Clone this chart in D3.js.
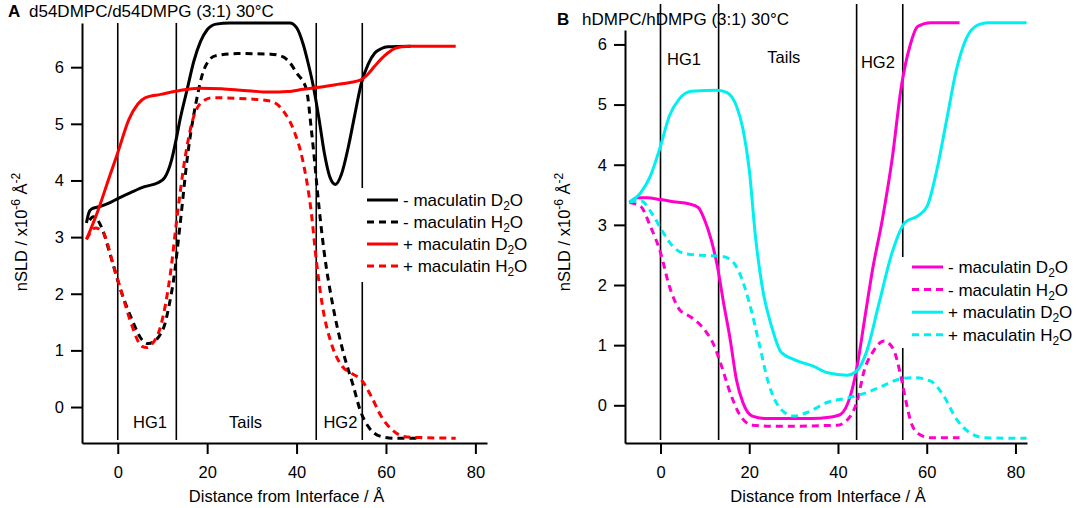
<!DOCTYPE html>
<html>
<head>
<meta charset="utf-8">
<script src="https://cdn.jsdelivr.net/npm/d3@7"></script>
<style>
  body { margin: 0; background: #fff; }
  svg { display: block; font-family: 'Liberation Sans', Arial, sans-serif; }
</style>
</head>
<body>
<div id="chart"></div>
<script>
// nSLD profiles, [distance (Å), nSLD (x10^-6 Å^-2)]
const aMinusD2O = [[-7,3.25],[-6.5,3.42],[-5.8,3.5],[-4,3.54],[-2,3.6],[0,3.68],[3,3.79],[6,3.89],[9,3.96],[10.5,4.05],[12,4.35],[13,4.7],[14,5.1],[15.5,5.6],[17,6.1],[18.5,6.45],[20,6.66],[22,6.76],[25,6.78],[38.5,6.78],[40,6.7],[41.5,6.4],[42.5,6.1],[43.6,5.72],[45,5.1],[46.2,4.49],[47.5,4.05],[48.7,3.93],[50,4.1],[51.6,4.6],[53,5.15],[54.5,5.72],[56,6.05],[57.5,6.25],[59,6.33],[60.4,6.36],[65.5,6.37]];
const aMinusH2O = [[-6.3,3.3],[-5.5,3.36],[-4.5,3.3],[-3.5,3.15],[-1.8,2.72],[0.4,2.13],[3.2,1.54],[5.4,1.19],[6.8,1.12],[8.2,1.16],[9.5,1.28],[10.4,1.43],[11.5,1.8],[12.5,2.25],[13.9,3.19],[15.7,4.49],[17.5,5.37],[19.3,5.96],[21.8,6.2],[26.8,6.24],[34.2,6.23],[37,6.18],[38.5,6.08],[40,5.9],[42.2,5.61],[43.3,4.9],[44,4.37],[44.7,3.78],[46.2,2.72],[48,1.84],[50.5,0.95],[52.7,0.37],[54.2,-0.05],[56,-0.34],[58.9,-0.52],[61.8,-0.55],[68,-0.55]];
const aPlusD2O = [[-7,2.96],[-4.6,3.43],[-1.8,4.08],[0,4.49],[2.5,5.08],[4.5,5.35],[6.1,5.46],[9.6,5.52],[13.9,5.59],[18.2,5.63],[23.2,5.62],[28.2,5.59],[34,5.56],[38,5.57],[41.5,5.61],[44.4,5.64],[48.7,5.69],[52,5.73],[54.5,5.78],[56,5.88],[57.5,6.02],[59,6.15],[60.4,6.25],[62,6.33],[63.5,6.36],[65.5,6.37],[75.6,6.37]];
const aPlusH2O = [[-7,2.96],[-5,3.16],[-3.2,3.07],[-1.1,2.54],[1.1,1.96],[3.2,1.43],[5.4,1.07],[6.5,1.05],[7.5,1.1],[9.6,1.43],[11.8,2.37],[13.2,3.31],[15,4.37],[16.8,5.08],[18.6,5.37],[21.1,5.46],[26.8,5.45],[34.2,5.4],[37.1,5.22],[39.3,4.9],[41.5,4.31],[43.3,3.43],[44.4,2.6],[45.8,1.78],[48,1.07],[50.2,0.72],[52.4,0.59],[54.5,0.48],[56.7,0.19],[58.9,-0.16],[61.8,-0.43],[64.7,-0.53],[75.6,-0.55]];

const bMinusD2O = [[-7,3.37],[-5.2,3.45],[-3,3.45],[0,3.42],[3.5,3.38],[6.3,3.35],[8.5,3.29],[9.9,3.09],[11.4,2.76],[12.8,2.32],[14.2,1.71],[15.7,1.1],[17.1,0.43],[18.6,0.04],[20.7,-0.18],[23.6,-0.22],[34,-0.22],[38,-0.2],[40.6,-0.15],[42.8,0.16],[44.2,0.6],[46,1.43],[47.8,2.26],[50,3.09],[52.2,4.09],[54.3,5.31],[56.2,5.97],[58,6.3],[60.9,6.36],[67.4,6.36]];
const bMinusH2O = [[-7,3.37],[-4.5,3.31],[-2.3,2.98],[0,2.54],[2,1.98],[4.2,1.6],[7,1.46],[9.9,1.26],[12.1,0.99],[13.5,0.71],[15.7,0.21],[17.8,-0.15],[20.7,-0.33],[25.8,-0.35],[39.9,-0.33],[42.8,-0.18],[44.2,0.04],[46,0.6],[47.8,0.88],[50.4,1.07],[52.5,0.93],[54,0.54],[55.4,0.04],[56.5,-0.29],[58.3,-0.48],[60.9,-0.54],[67.4,-0.54]];
const bPlusD2O = [[-7,3.38],[-4.5,3.53],[-2.3,3.81],[0,4.31],[2,4.81],[4.2,5.09],[7,5.22],[12.8,5.24],[15,5.2],[17.1,4.98],[18.6,4.59],[20,3.92],[21.4,2.81],[22.9,1.98],[25,1.32],[27.2,0.88],[30.1,0.76],[34.4,0.65],[37.7,0.54],[42,0.5],[44.2,0.57],[46.4,0.88],[49.3,1.71],[52.2,2.54],[55.1,3.04],[58,3.15],[60.1,3.31],[62.3,3.92],[64.5,4.75],[66.7,5.58],[68.8,6.08],[71.7,6.33],[73.9,6.36],[82.5,6.36]];
const bPlusH2O = [[-7,3.38],[-4.5,3.4],[-1.6,3.15],[0.6,2.87],[2.7,2.65],[5.6,2.52],[9.9,2.49],[13.5,2.48],[15.7,2.43],[17.8,2.2],[20,1.71],[22.2,1.04],[24.3,0.38],[27.2,-0.07],[30.1,-0.18],[33,-0.12],[37.7,0.05],[42,0.12],[46.4,0.21],[50,0.32],[53.6,0.43],[57.2,0.46],[60.9,0.4],[63.8,0.16],[66.7,-0.23],[69.6,-0.45],[73.2,-0.54],[82.5,-0.55]];

const legendLabels = ['- maculatin', '- maculatin', '+ maculatin', '+ maculatin'];
const legendSolvents = ['D2O', 'H2O', 'D2O', 'H2O'];
const regionNames = ['HG1', 'Tails', 'HG2'];
const xTickValues = [0, 20, 40, 60, 80];
const yTickValues = [0, 1, 2, 3, 4, 5, 6];
const aBoundaries = [0, 13.1, 44.4, 54.7];
const bBoundaries = [0, 13.1, 44.2, 54.6];

const width = 1084;
const height = 508;

const svg = d3.select('#chart')
  .append('svg')
  .attr('width', width)
  .attr('height', height);

function drawPanel(cfg) {
  const g = svg.append('g');

  const x = d3.scaleLinear().domain([-8, 82.6]).range(cfg.xRange);
  const y = d3.scaleLinear().domain(cfg.yDomain).range([443, cfg.yTop]);

  // region boundary lines (the last one is broken around the legend)
  cfg.boundaries.forEach((b, i) => {
    const segs = i === 3 ? cfg.lastLineSegs : [[cfg.lineTop, 440]];
    segs.forEach(([y0, y1]) => {
      g.append('line')
        .attr('x1', x(b)).attr('x2', x(b))
        .attr('y1', y0).attr('y2', y1)
        .attr('stroke', '#000')
        .attr('stroke-width', 1.6);
    });
  });

  // region labels
  regionNames.forEach((name, i) => {
    g.append('text')
      .attr('x', x(cfg.regionX[i]))
      .attr('y', cfg.regionY[i])
      .attr('text-anchor', 'middle')
      .style('font-size', '16.5px')
      .text(name);
  });

  // curves
  const line = d3.line()
    .x((d) => x(d[0]))
    .y((d) => y(d[1]))
    .curve(d3.curveMonotoneX);

  cfg.series.forEach((s) => {
    g.append('path')
      .datum(s.data)
      .attr('d', line)
      .attr('fill', 'none')
      .attr('stroke', s.color)
      .attr('stroke-width', 3)
      .attr('stroke-dasharray', s.dashed ? '7,5' : null);
  });

  // axes
  const xAxis = d3.axisBottom(x)
    .tickValues(xTickValues)
    .tickFormat(d3.format('d'))
    .tickSizeInner(11)
    .tickSizeOuter(0)
    .tickPadding(12);

  const yAxis = d3.axisLeft(y)
    .tickValues(yTickValues)
    .tickFormat(d3.format('d'))
    .tickSizeInner(11)
    .tickSizeOuter(0)
    .tickPadding(7);

  const gx = g.append('g')
    .attr('transform', 'translate(0, 443)')
    .call(xAxis);

  const gy = g.append('g')
    .attr('transform', `translate(${cfg.xRange[0]}, 0)`)
    .call(yAxis);

  [gx, gy].forEach((ax) => {
    ax.selectAll('path, line').attr('stroke', '#000').attr('stroke-width', 2);
    ax.selectAll('text')
      .attr('fill', '#000')
      .style('font-size', '16.5px')
      .style('font-family', "'Liberation Sans', Arial, sans-serif");
  });

  // axis titles
  g.append('text')
    .attr('x', (cfg.xRange[0] + cfg.xRange[1]) / 2 + 2)
    .attr('y', 502)
    .attr('text-anchor', 'middle')
    .style('font-size', '16.5px')
    .text('Distance from Interface / Å');

  const yl = g.append('text')
    .attr('transform', `translate(${cfg.yLabelX}, 232) rotate(-90)`)
    .attr('text-anchor', 'middle')
    .style('font-size', '16.5px');
  yl.append('tspan').text('nSLD / x10');
  yl.append('tspan').attr('dy', -7).style('font-size', '12px').text('-6');
  yl.append('tspan').attr('dy', 7).text(' Å');
  yl.append('tspan').attr('dy', -7).style('font-size', '12px').text('-2');

  // panel title
  g.append('text')
    .attr('x', cfg.letterX)
    .attr('y', cfg.titleY)
    .style('font-size', '17px')
    .style('font-weight', 'bold')
    .text(cfg.letter);

  g.append('text')
    .attr('x', cfg.titleX)
    .attr('y', cfg.titleY)
    .style('font-size', '17px')
    .text(cfg.title);

  // legend
  cfg.series.forEach((s, i) => {
    const ly = cfg.legendY + i * cfg.legendStep;
    g.append('line')
      .attr('x1', cfg.legendX).attr('x2', cfg.legendX + 31)
      .attr('y1', ly).attr('y2', ly)
      .attr('stroke', s.color)
      .attr('stroke-width', 3)
      .attr('stroke-dasharray', s.dashed ? '7,5' : null);

    const t = g.append('text')
      .attr('x', cfg.legendX + 36)
      .attr('y', ly + 6)
      .style('font-size', '17px');
    const solvent = legendSolvents[i];
    t.append('tspan').text(`${legendLabels[i]} ${solvent[0]}`);
    t.append('tspan').attr('dy', 4).style('font-size', '12px').text(solvent[1]);
    t.append('tspan').attr('dy', -4).text(solvent.slice(2));
  });
}

drawPanel({
  xRange: [82, 487],
  yDomain: [-0.635, 6.78],
  yTop: 23,
  lineTop: 23,
  boundaries: aBoundaries,
  lastLineSegs: [[23, 188], [282, 440]],
  regionX: [7.2, 28.6, 49.8],
  regionY: [428, 428, 428],
  yLabelX: 27,
  letter: 'A',
  letterX: 8,
  titleX: 29,
  titleY: 17,
  title: 'd54DMPC/d54DMPG (3:1) 30°C',
  legendX: 367,
  legendY: 200,
  legendStep: 22,
  series: [
    { data: aMinusD2O, color: '#000000', dashed: false },
    { data: aMinusH2O, color: '#000000', dashed: true },
    { data: aPlusD2O, color: '#ff0000', dashed: false },
    { data: aPlusH2O, color: '#ff0000', dashed: true },
  ],
});

drawPanel({
  xRange: [625, 1027],
  yDomain: [-0.627, 6.24],
  yTop: 30,
  lineTop: 4,
  boundaries: bBoundaries,
  lastLineSegs: [[4, 257], [348, 440]],
  regionX: [5.3, 27.8, 49],
  regionY: [65, 63, 68],
  yLabelX: 570,
  letter: 'B',
  letterX: 557,
  titleX: 582,
  titleY: 25,
  title: 'hDMPC/hDMPG (3:1) 30°C',
  legendX: 912,
  legendY: 267,
  legendStep: 22.6,
  series: [
    { data: bMinusD2O, color: '#ff00cc', dashed: false },
    { data: bMinusH2O, color: '#ff00cc', dashed: true },
    { data: bPlusD2O, color: '#00f0f0', dashed: false },
    { data: bPlusH2O, color: '#00f0f0', dashed: true },
  ],
});
</script>
</body>
</html>
